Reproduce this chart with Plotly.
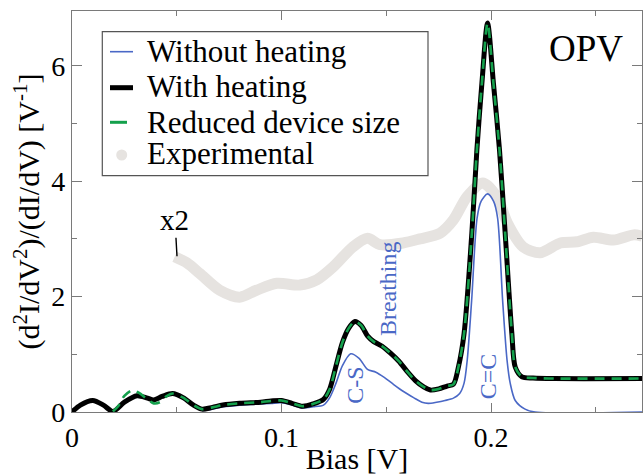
import plotly.graph_objects as go

# ---------------- data ----------------
bias_heat = [0.000, 0.004, 0.0099, 0.015, 0.0195, 0.025, 0.031, 0.036, 0.039, 0.043,
             0.048, 0.053, 0.058, 0.062, 0.067, 0.072, 0.080, 0.090, 0.095, 0.100,
             0.105, 0.110, 0.115, 0.120, 0.123, 0.126, 0.129, 0.132, 0.135, 0.138,
             0.141, 0.144, 0.148, 0.152, 0.156, 0.160, 0.164, 0.168, 0.171, 0.175,
             0.179, 0.182, 0.1844, 0.1871, 0.1908, 0.1932, 0.1956, 0.1983, 0.2011,
             0.2040, 0.2067, 0.2099, 0.2115, 0.2147, 0.220, 0.230, 0.272]
didv_heat = [0.00, 0.12, 0.20, 0.12, 0.01, 0.17, 0.28, 0.24, 0.21, 0.27,
             0.32, 0.25, 0.12, 0.05, 0.08, 0.12, 0.15, 0.17, 0.19, 0.20,
             0.15, 0.10, 0.14, 0.22, 0.40, 0.80, 1.20, 1.45, 1.57, 1.50,
             1.32, 1.22, 1.14, 1.02, 0.88, 0.70, 0.54, 0.43, 0.38, 0.40,
             0.45, 0.48, 0.78, 1.36, 3.10, 4.54, 5.70, 6.74, 5.70,
             4.54, 3.10, 1.36, 0.78, 0.61, 0.59, 0.58, 0.58]

bias_noheat = [0.000, 0.004, 0.0099, 0.015, 0.0195, 0.025, 0.031, 0.036, 0.039, 0.043,
               0.048, 0.053, 0.058, 0.062, 0.067, 0.072, 0.080, 0.090, 0.095, 0.100,
               0.105, 0.110, 0.115, 0.120, 0.123, 0.126, 0.129, 0.133, 0.137, 0.141,
               0.145, 0.149, 0.153, 0.158, 0.163, 0.167, 0.170, 0.174, 0.178, 0.182,
               0.1850, 0.1871, 0.1886, 0.1907, 0.1933, 0.1952, 0.1983, 0.2012, 0.2031,
               0.2055, 0.2076, 0.2091, 0.2115, 0.2162, 0.221, 0.272]
didv_noheat = [0.00, 0.12, 0.20, 0.12, 0.01, 0.17, 0.28, 0.24, 0.21, 0.27,
               0.31, 0.23, 0.10, 0.03, 0.05, 0.09, 0.12, 0.14, 0.15, 0.16,
               0.12, 0.07, 0.09, 0.12, 0.25, 0.50, 0.80, 1.01, 0.93, 0.74,
               0.69, 0.60, 0.49, 0.36, 0.25, 0.17, 0.15, 0.17, 0.20, 0.24,
               0.32, 0.50, 0.90, 1.93, 3.36, 3.65, 3.78, 3.65, 3.36,
               1.93, 0.90, 0.50, 0.20, 0.05, 0.00, 0.00]

bias_small = [0.0195, 0.022, 0.025, 0.029, 0.032, 0.036, 0.039, 0.042, 0.045, 0.048,
              0.053, 0.058, 0.062, 0.067, 0.072, 0.080, 0.090, 0.095, 0.100,
              0.105, 0.110, 0.115, 0.120, 0.123, 0.126, 0.129, 0.132, 0.135, 0.138,
              0.141, 0.144, 0.148, 0.152, 0.156, 0.160, 0.164, 0.168, 0.171, 0.175,
              0.179, 0.182, 0.1844, 0.1871, 0.1908, 0.1932, 0.1956, 0.1983, 0.2011,
              0.2040, 0.2067, 0.2099, 0.2115, 0.2147, 0.220, 0.230, 0.272]
didv_small = [0.01, 0.10, 0.28, 0.38, 0.33, 0.22, 0.15, 0.17, 0.27, 0.32,
              0.25, 0.12, 0.05, 0.08, 0.12, 0.15, 0.17, 0.19, 0.20,
              0.15, 0.10, 0.14, 0.22, 0.40, 0.80, 1.20, 1.45, 1.57, 1.50,
              1.32, 1.22, 1.14, 1.02, 0.88, 0.70, 0.54, 0.43, 0.38, 0.40,
              0.45, 0.48, 0.78, 1.36, 3.10, 4.54, 5.70, 6.74, 5.70,
              4.54, 3.10, 1.36, 0.78, 0.61, 0.59, 0.58, 0.58]

bias_exp = [0.049, 0.055, 0.061, 0.0705, 0.080, 0.088, 0.0978, 0.1087, 0.1168, 0.1245,
            0.134, 0.141, 0.147, 0.158, 0.166, 0.1756, 0.182, 0.1885, 0.196, 0.2029,
            0.2077, 0.2153, 0.2234, 0.233, 0.241, 0.2488, 0.2583, 0.268, 0.272]
didv_exp = [2.69, 2.58, 2.40, 2.11, 1.99, 2.11, 2.23, 2.20, 2.29, 2.51,
            2.86, 3.01, 2.90, 2.93, 3.00, 3.10, 3.33, 3.73, 3.97, 3.72,
            3.28, 2.86, 2.76, 2.93, 2.95, 3.03, 2.98, 3.07, 3.05]

x_ticks = [0, 0.1, 0.2]
x_ticklabels = ["0", "0.1", "0.2"]
y_ticks = [0, 2, 4, 6]
y_ticklabels = ["0", "2", "4", "6"]

series_names = ["Without heating", "With heating", "Reduced device size", "Experimental"]

# ---------------- styling ----------------
FONT = "Liberation Serif"
BLUE = "#4a68c6"
GREEN = "#14a04c"
GRAY = "#e6e3e0"
AX = "#7a7a7a"

fig = go.Figure()
fig.add_trace(go.Scatter(x=bias_exp, y=didv_exp, mode="lines", name=series_names[3],
                         line=dict(color=GRAY, width=11, shape="spline", smoothing=0.8),
                         showlegend=False))
fig.add_trace(go.Scatter(x=bias_noheat, y=didv_noheat, mode="lines", name=series_names[0],
                         line=dict(color=BLUE, width=1.6, shape="spline", smoothing=0.8),
                         showlegend=False))
fig.add_trace(go.Scatter(x=bias_heat, y=didv_heat, mode="lines", name=series_names[1],
                         line=dict(color="black", width=5, shape="spline", smoothing=0.8),
                         showlegend=False))
fig.add_trace(go.Scatter(x=bias_small, y=didv_small, mode="lines", name=series_names[2],
                         line=dict(color=GREEN, width=2.6, dash="10px,7px", shape="spline", smoothing=0.8),
                         showlegend=False))

W, H = 643, 475
ML, MR, MT, MB = 72, 1, 11, 63
PW, PH = W - ML - MR, H - MT - MB

def px(xp):
    return (xp - ML) / PW

def py(yp):
    return (MT + PH - yp) / PH

shapes = []
annotations = []

# legend frame
shapes.append(dict(type="rect", xref="paper", yref="paper",
                   x0=px(102.3), x1=px(428), y0=py(175.7), y1=py(31.7),
                   line=dict(color="#555555", width=1.2), fillcolor="white", layer="above"))
# legend samples
shapes.append(dict(type="line", xref="paper", yref="paper", x0=px(110), x1=px(133),
                   y0=py(51.7), y1=py(51.7), line=dict(color=BLUE, width=1.6)))
shapes.append(dict(type="line", xref="paper", yref="paper", x0=px(110), x1=px(133),
                   y0=py(87.7), y1=py(87.7), line=dict(color="black", width=5)))
shapes.append(dict(type="line", xref="paper", yref="paper", x0=px(110), x1=px(127),
                   y0=py(122.3), y1=py(122.3), line=dict(color=GREEN, width=3)))
shapes.append(dict(type="circle", xref="paper", yref="paper",
                   x0=px(121.7 - 5.5), x1=px(121.7 + 5.5), y0=py(155 + 5.5), y1=py(155 - 5.5),
                   line=dict(color=GRAY, width=0), fillcolor=GRAY))

legend_y = [50, 86, 121.7, 152.5]
for name, yy in zip(series_names, legend_y):
    annotations.append(dict(text=name, xref="paper", yref="paper", x=px(145), y=py(yy + 1),
                            xanchor="left", yanchor="middle", showarrow=False,
                            font=dict(family=FONT, size=31, color="black")))

annotations.append(dict(text="OPV", xref="paper", yref="paper", x=px(586), y=py(49),
                        xanchor="center", yanchor="middle", showarrow=False,
                        font=dict(family=FONT, size=37, color="black")))

annotations.append(dict(text="x2", x=0.0501, y=2.70, ax=-2, ay=-36, xref="x", yref="y",
                        showarrow=True, arrowhead=0, arrowwidth=1.4, arrowcolor="black",
                        font=dict(family=FONT, size=29, color="black")))

annotations.append(dict(text="Breathing", x=0.1508, y=2.13, xref="x", yref="y", textangle=-90,
                        showarrow=False, font=dict(family=FONT, size=24, color=BLUE)))
annotations.append(dict(text="C-S", x=0.1350, y=0.47, xref="x", yref="y", textangle=-90,
                        showarrow=False, font=dict(family=FONT, size=24, color=BLUE)))
annotations.append(dict(text="C=C", x=0.1985, y=0.62, xref="x", yref="y", textangle=-90,
                        showarrow=False, font=dict(family=FONT, size=24, color=BLUE)))

tickfont = dict(family=FONT, size=28, color="black")
fig.update_xaxes(range=[0, 0.272], tickmode="array", tickvals=x_ticks, ticktext=x_ticklabels,
                 ticks="inside", ticklen=9, tickwidth=1.2, tickcolor=AX,
                 showline=True, linecolor=AX, linewidth=1.4, mirror="ticks",
                 showgrid=False, zeroline=False, tickfont=tickfont,
                 minor=dict(tickmode="linear", tick0=0, dtick=0.05, ticks="inside",
                            ticklen=5, tickwidth=1.2, tickcolor=AX, showgrid=False),
                 title=dict(text="Bias [V]", font=dict(family=FONT, size=30, color="black"),
                            standoff=4))
fig.update_yaxes(range=[0, 6.95], tickmode="array", tickvals=y_ticks, ticktext=y_ticklabels,
                 ticks="inside", ticklen=10, tickwidth=1.2, tickcolor=AX,
                 showline=True, linecolor=AX, linewidth=1.4, mirror="ticks",
                 showgrid=False, zeroline=False, tickfont=tickfont,
                 minor=dict(tickmode="linear", tick0=0, dtick=1, ticks="inside",
                            ticklen=5, tickwidth=1.2, tickcolor=AX, showgrid=False),
                 title=dict(text="(d<sup>2</sup>I/dV<sup>2</sup>)/(dI/dV) [V<sup>-1</sup>]",
                            font=dict(family=FONT, size=30, color="black"), standoff=2))

fig.update_layout(width=W, height=H, margin=dict(l=ML, r=MR, t=MT, b=MB, autoexpand=False),
                  plot_bgcolor="white", paper_bgcolor="white", showlegend=False,
                  shapes=shapes, annotations=annotations,
                  font=dict(family=FONT, color="black"))

fig.write_html("out.html", config={"displayModeBar": False},
               post_script="document.body.style.margin='0';document.body.style.padding='0';")
